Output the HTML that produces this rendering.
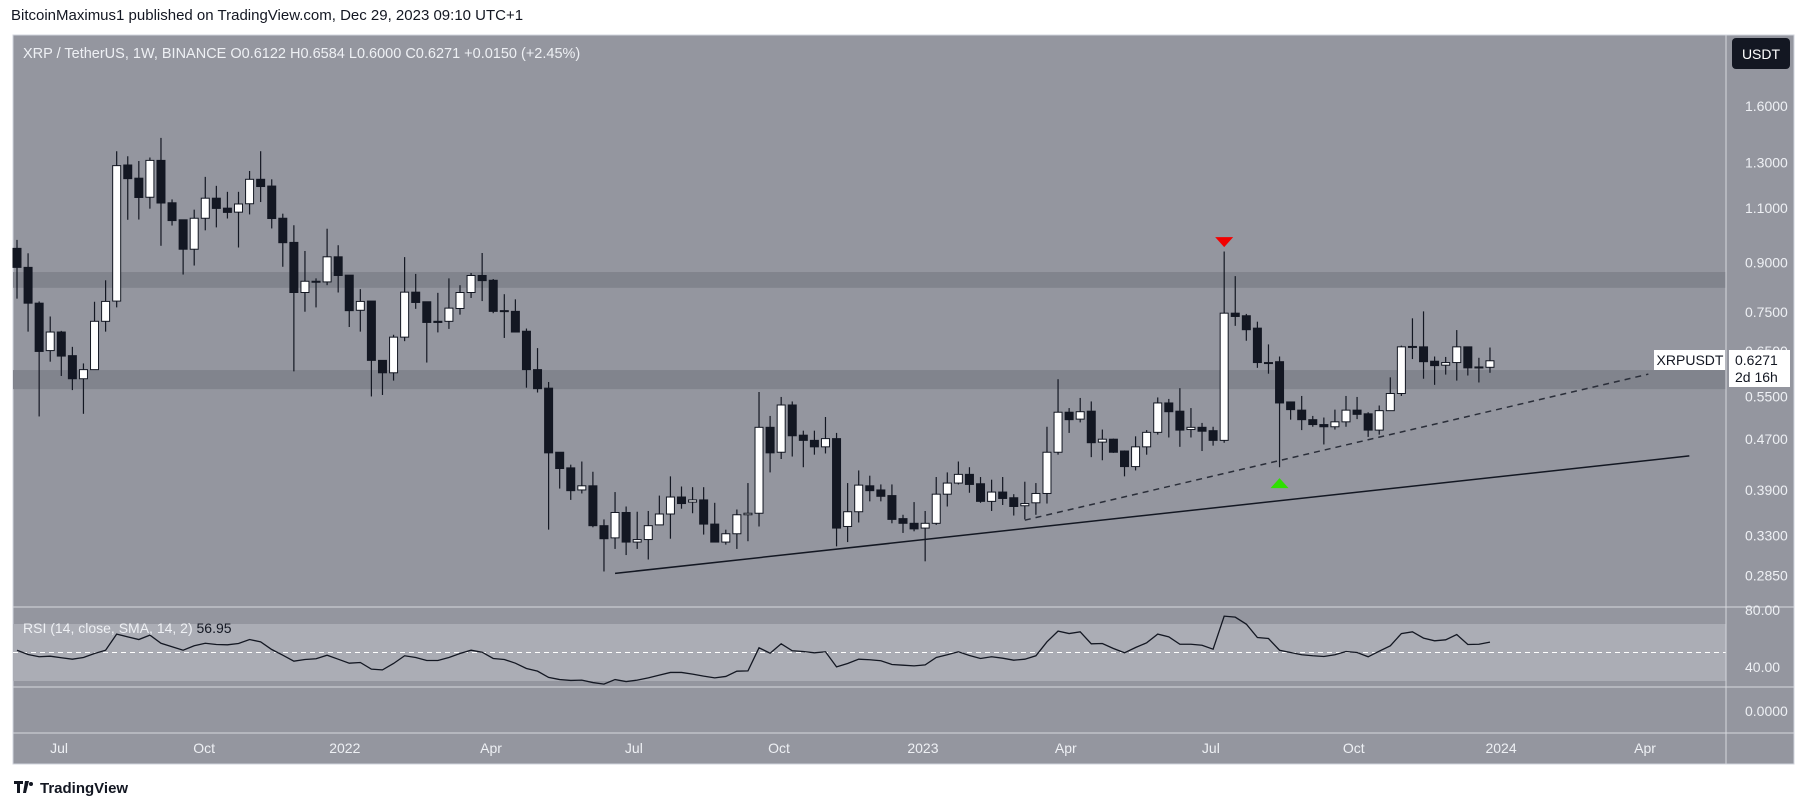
<!DOCTYPE html>
<html><head><meta charset="utf-8"><style>
html,body{margin:0;padding:0;background:#fff;}
svg{display:block;font-family:"Liberation Sans",sans-serif;}
</style></head><body>
<svg id="chart" width="1807" height="809" viewBox="0 0 1807 809" xmlns="http://www.w3.org/2000/svg">
<text x="11" y="20" font-size="15" fill="#131722">BitcoinMaximus1 published on TradingView.com, Dec 29, 2023 09:10 UTC+1</text>
<rect x="13" y="35" width="1781" height="729" fill="#94969f" stroke="#d1d4dc" stroke-width="1"/>
<rect x="13" y="624" width="1713" height="57" fill="#abadb5"/>
<g id="bands"></g>
<g id="lines"></g>
<g id="candles"></g>
<g id="rsi"></g>
<line x1="13" y1="607" x2="1794" y2="607" stroke="#d6d8de" stroke-width="1"/>
<line x1="13" y1="687" x2="1794" y2="687" stroke="#d6d8de" stroke-width="1"/>
<line x1="13" y1="733" x2="1794" y2="733" stroke="#d6d8de" stroke-width="1"/>
<line x1="1726" y1="35" x2="1726" y2="764" stroke="#d6d8de" stroke-width="1"/>
<g id="axis"></g>
<text x="23" y="58" font-size="14.5" fill="#eef0f4">XRP / TetherUS, 1W, BINANCE  O0.6122  H0.6584  L0.6000  C0.6271  +0.0150 (+2.45%)</text>
<text x="23" y="633" font-size="14" fill="#eef0f4">RSI (14, close, SMA, 14, 2) <tspan fill="#131722">56.95</tspan></text>
<rect x="1732" y="38" width="58" height="31" rx="4" fill="#131722"/>
<text x="1761" y="59" font-size="14" fill="#fff" text-anchor="middle">USDT</text>
<rect x="1654" y="350" width="71" height="20" fill="#fff"/>
<text x="1690" y="365" font-size="14" fill="#131722" text-anchor="middle">XRPUSDT</text>
<rect x="1729" y="350" width="61" height="37" fill="#fff"/>
<text x="1735" y="365" font-size="14" fill="#131722">0.6271</text>
<text x="1735" y="382" font-size="14" fill="#131722">2d 16h</text>
<g>
<path d="M14 781h9v3h-3v9h-3v-9h-3z M25 781h4l-3 12h-3z" fill="#131722"/>
<circle cx="31" cy="784" r="2" fill="#131722"/>
<text x="40" y="793" font-size="15" font-weight="bold" fill="#131722">TradingView</text>
</g>
</svg>
<script>
const opens=[0.948,0.884,0.775,0.651,0.697,0.639,0.587,0.607,0.725,0.781,1.288,1.227,1.144,1.310,1.121,1.053,0.945,1.059,1.140,1.099,1.083,1.117,1.222,1.192,1.059,0.969,0.806,0.840,0.838,0.919,0.859,0.755,0.781,0.628,0.600,0.684,0.807,0.779,0.725,0.725,0.760,0.806,0.858,0.843,0.754,0.752,0.699,0.607,0.567,0.448,0.423,0.390,0.396,0.342,0.327,0.359,0.322,0.325,0.343,0.357,0.380,0.373,0.376,0.344,0.322,0.332,0.356,0.358,0.491,0.448,0.533,0.477,0.468,0.457,0.471,0.341,0.360,0.396,0.390,0.382,0.351,0.345,0.339,0.345,0.384,0.400,0.413,0.399,0.374,0.387,0.379,0.368,0.372,0.385,0.448,0.519,0.506,0.521,0.465,0.470,0.450,0.425,0.457,0.482,0.537,0.521,0.487,0.491,0.485,0.468,0.747,0.740,0.707,0.623,0.625,0.539,0.523,0.505,0.496,0.492,0.501,0.523,0.516,0.486,0.522,0.556,0.660,0.660,0.626,0.617,0.623,0.660,0.613,0.6122];
const closes=[0.884,0.775,0.649,0.697,0.638,0.587,0.607,0.725,0.780,1.285,1.225,1.143,1.310,1.120,1.050,0.945,1.059,1.140,1.098,1.082,1.116,1.222,1.190,1.058,0.968,0.806,0.840,0.837,0.919,0.858,0.754,0.780,0.628,0.600,0.684,0.807,0.777,0.722,0.722,0.761,0.806,0.858,0.842,0.752,0.752,0.697,0.607,0.566,0.447,0.422,0.389,0.396,0.342,0.326,0.359,0.322,0.325,0.342,0.357,0.380,0.371,0.376,0.344,0.322,0.332,0.356,0.358,0.491,0.447,0.533,0.476,0.468,0.457,0.471,0.339,0.360,0.397,0.389,0.381,0.350,0.345,0.338,0.345,0.384,0.400,0.413,0.398,0.374,0.387,0.378,0.367,0.371,0.385,0.448,0.519,0.505,0.520,0.464,0.470,0.448,0.425,0.457,0.482,0.537,0.520,0.486,0.491,0.484,0.468,0.747,0.738,0.703,0.623,0.622,0.537,0.524,0.505,0.496,0.492,0.501,0.523,0.515,0.486,0.522,0.556,0.660,0.661,0.625,0.616,0.623,0.660,0.611,0.612,0.6271];
const highs=[0.978,0.931,0.780,0.738,0.700,0.660,0.621,0.779,0.843,1.355,1.330,1.307,1.324,1.423,1.135,1.053,1.093,1.233,1.193,1.167,1.167,1.260,1.355,1.222,1.077,1.032,0.939,0.849,1.019,0.959,0.859,0.816,0.781,0.628,0.690,0.918,0.863,0.779,0.805,0.849,0.828,0.866,0.932,0.847,0.801,0.786,0.706,0.657,0.580,0.448,0.428,0.433,0.417,0.350,0.387,0.367,0.360,0.361,0.382,0.410,0.395,0.394,0.394,0.372,0.337,0.363,0.400,0.559,0.512,0.549,0.540,0.485,0.485,0.510,0.481,0.400,0.419,0.411,0.398,0.398,0.356,0.373,0.361,0.409,0.416,0.433,0.424,0.409,0.405,0.409,0.384,0.402,0.400,0.492,0.586,0.527,0.547,0.540,0.487,0.471,0.451,0.475,0.486,0.548,0.545,0.567,0.527,0.499,0.492,0.937,0.856,0.745,0.724,0.666,0.637,0.539,0.551,0.512,0.509,0.524,0.551,0.549,0.519,0.532,0.590,0.663,0.733,0.752,0.637,0.636,0.702,0.660,0.634,0.6584];
const lows=[0.788,0.698,0.511,0.625,0.593,0.563,0.516,0.607,0.698,0.763,1.053,1.054,1.097,0.957,1.031,0.861,0.890,1.013,1.024,1.058,0.951,1.074,1.124,1.020,0.886,0.603,0.751,0.763,0.828,0.806,0.710,0.698,0.550,0.553,0.583,0.674,0.759,0.623,0.696,0.705,0.743,0.790,0.781,0.747,0.682,0.697,0.568,0.558,0.337,0.392,0.376,0.385,0.340,0.289,0.314,0.307,0.314,0.302,0.343,0.326,0.364,0.358,0.331,0.322,0.319,0.314,0.323,0.341,0.416,0.437,0.441,0.424,0.444,0.446,0.317,0.322,0.346,0.374,0.374,0.345,0.333,0.335,0.300,0.343,0.367,0.398,0.386,0.372,0.361,0.369,0.355,0.350,0.356,0.371,0.444,0.481,0.500,0.440,0.435,0.447,0.410,0.419,0.444,0.478,0.473,0.457,0.473,0.450,0.459,0.464,0.713,0.675,0.611,0.598,0.424,0.505,0.486,0.492,0.461,0.487,0.492,0.506,0.474,0.478,0.522,0.551,0.631,0.587,0.574,0.596,0.583,0.594,0.579,0.6000];
const rsiValues=[51.6,48.6,47,47.4,46.3,45.3,46.5,49.3,51.6,62.9,61,59.1,62.2,56.5,54,51.6,54.7,56.5,55.6,55.4,56.3,59.1,57.5,52.1,48.1,43.9,45.1,45.6,48.1,45.3,42.5,43,38.3,37.8,42.3,47.7,46.5,44.4,44.4,46.5,49.3,51.6,50.2,45.8,45.1,42.5,38.8,36.9,32.5,31,30.4,30.6,28.9,27.8,31,29.6,30.6,32.2,34.1,36,36,34.8,33.4,32.2,33.2,36.9,37.1,53.3,49.5,56.1,51.2,50.7,49.8,50.5,39.9,42.3,45.3,44.9,44.2,41.6,41.1,40.6,41.3,46.5,48.4,50.5,47.9,45.8,47,46,44.6,45.3,47.7,57.5,65,63.3,64.5,56.1,56.3,52.8,49.8,53.5,56.8,62.9,61,55.8,55.8,55.1,52.3,75.5,74.8,69.9,60.5,59.8,51.6,50,48.4,47.7,47.2,48.4,50.7,50,47,50.9,54.7,63.3,64.5,60.1,58.2,58.9,62.6,55.6,55.8,57.3];
const priceTicks=[1.6,1.3,1.1,0.9,0.75,0.65,0.55,0.47,0.39,0.33,0.285];
const rsiTicks=[80,40];
const timeLabels=["Jul","Oct","2022","Apr","Jul","Oct","2023","Apr","Jul","Oct","2024","Apr"];
const timeWeeks=[3.8,16.9,29.6,42.8,55.7,68.8,81.8,94.7,107.8,120.7,134,147];
const zoneUpper=[0.820,0.869];
const zoneLower=[0.565,0.606];
const trendSolid=[[54,0.287],[151,0.442]];
const trendDashed=[[91,0.349],[147.3,0.597]];
const markerTop=[109,0.97];
const markerBottom=[114,0.40];

const NS="http://www.w3.org/2000/svg";
const xOf=i=>17+i*11.075;
const yOf=p=>106+(0.470-Math.log(p))*272;
const yR=v=>652.5-(v-50)*1.425;
function mk(tag,attrs,parent){const e=document.createElementNS(NS,tag);for(const k in attrs)e.setAttribute(k,attrs[k]);parent.appendChild(e);return e;}
const gB=document.getElementById('bands'),gL=document.getElementById('lines'),gC=document.getElementById('candles'),gR=document.getElementById('rsi'),gA=document.getElementById('axis');
[zoneUpper,zoneLower].forEach((z,k)=>{
 const r=mk('rect',{x:13,y:yOf(z[1]),width:1713,height:yOf(z[0])-yOf(z[1]),fill:'#81848d'},gB);
 
 
});
const t1=mk('line',{x1:xOf(trendSolid[0][0]),y1:yOf(trendSolid[0][1]),x2:xOf(trendSolid[1][0]),y2:yOf(trendSolid[1][1]),stroke:'#131722','stroke-width':1.5},gL);


const t2=mk('line',{x1:xOf(trendDashed[0][0]),y1:yOf(trendDashed[0][1]),x2:xOf(trendDashed[1][0]),y2:yOf(trendDashed[1][1]),stroke:'#2a2e39','stroke-width':1.5,'stroke-dasharray':'6 5'},gL);


for(let i=0;i<opens.length;i++){
 const o=opens[i],c=closes[i],x=xOf(i),up=c>=o;
 const g=mk('g',{},gC);
 
 
 mk('line',{x1:x,x2:x,y1:yOf(highs[i]),y2:yOf(lows[i]),stroke:'#131722','stroke-width':1.2},g);
 const top=yOf(Math.max(o,c)),bot=yOf(Math.min(o,c));
 mk('rect',{x:x-4,y:top,width:8,height:Math.max(1,bot-top),fill:up?'#ffffff':'#131722',stroke:'#131722','stroke-width':1},g);
}
const mt=mk('polygon',{points:`${xOf(markerTop[0])-9},${yOf(markerTop[1])-5} ${xOf(markerTop[0])+9},${yOf(markerTop[1])-5} ${xOf(markerTop[0])},${yOf(markerTop[1])+5}`,fill:'#f20000'},gL);


const mb=mk('polygon',{points:`${xOf(markerBottom[0])-9},${yOf(markerBottom[1])+5} ${xOf(markerBottom[0])+9},${yOf(markerBottom[1])+5} ${xOf(markerBottom[0])},${yOf(markerBottom[1])-5}`,fill:'#2ee000'},gL);


const mid=mk('line',{x1:13,x2:1726,y1:yR(50),y2:yR(50),stroke:'#ffffff','stroke-width':1,'stroke-dasharray':'5 4'},gR);


const pts=rsiValues.map((v,i)=>xOf(i)+','+yR(v)).join(' ');
const rl=mk('polyline',{points:pts,fill:'none',stroke:'#131722','stroke-width':1.3},gR);


priceTicks.forEach(p=>{
 const t=mk('text',{x:1745,y:yOf(p)+5,'font-size':14,fill:'#eef0f4'},gA);
 t.textContent=p.toFixed(4);
 
 
});
rsiTicks.forEach(v=>{
 const t=mk('text',{x:1745,y:yR(v)+5,'font-size':14,fill:'#eef0f4'},gA);
 t.textContent=v.toFixed(2);
 
 
});
const z=mk('text',{x:1745,y:716,'font-size':14,fill:'#eef0f4'},gA);
z.textContent='0.0000';


timeLabels.forEach((l,k)=>{
 const t=mk('text',{x:xOf(timeWeeks[k]),y:753,'font-size':14,fill:'#eef0f4','text-anchor':'middle'},gA);
 t.textContent=l;
 
 
});
</script>
</body></html>
